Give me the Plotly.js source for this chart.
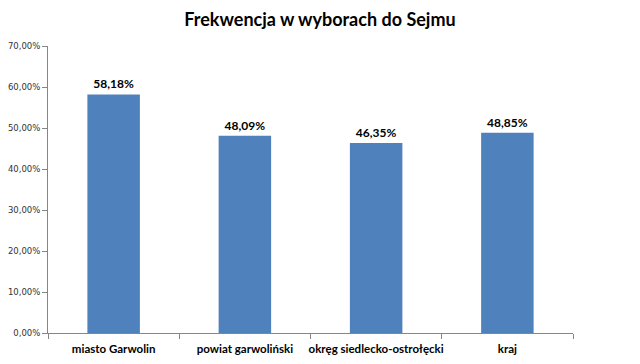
<!DOCTYPE html>
<html><head><meta charset="utf-8">
<script src="https://cdn.plot.ly/plotly-3.0.1.min.js"></script>
<style>html,body{margin:0;padding:0;background:#fff}#chart{width:640px;height:364px}</style>
</head><body><div id="chart"></div>
<script>
const categories = ["miasto Garwolin", "powiat garwoliński", "okręg siedlecko-ostrołęcki", "kraj"];
const turnout = [0.5818, 0.4809, 0.4635, 0.4885];
const yTicks = [0, 0.1, 0.2, 0.3, 0.4, 0.5, 0.6, 0.7];

const trace = {
  type: "bar",
  x: categories,
  y: turnout,
  marker: {color: "#4F81BD"},
  width: 0.4,
  texttemplate: "%{y:.2%}",
  textposition: "outside",
  cliponaxis: false,
  textfont: {family: "Lato, sans-serif", size: 12, color: "#000", weight: "bold"},
  hoverinfo: "none"
};

const layout = {
  width: 640, height: 364,
  margin: {l: 48, r: 67, t: 46, b: 31},
  separators: ",.",
  paper_bgcolor: "#fff", plot_bgcolor: "#fff",
  title: {text: "Frekwencja w wyborach do Sejmu", x: 0.5, xanchor: "center", y: 0.945, yanchor: "middle",
          font: {family: "Lato, sans-serif", size: 18, color: "#000", weight: "bold"}},
  showlegend: false,
  xaxis: {
    showline: true, linecolor: "#868686", linewidth: 1,
    ticks: "outside", tickson: "boundaries", ticklen: 5, tickcolor: "#868686",
    tickangle: 0, ticklabelstandoff: 5,
    tickfont: {family: "Lato, sans-serif", size: 11.5, color: "#000", weight: "bold"},
    showgrid: false, zeroline: false, fixedrange: true
  },
  yaxis: {
    range: [0, 0.7], tickvals: yTicks, tickformat: ".2%",
    showline: true, linecolor: "#868686", linewidth: 1,
    ticks: "outside", ticklen: 5, tickcolor: "#868686",
    tickfont: {family: "DejaVu Sans, sans-serif", size: 8.5, color: "#333"},
    showgrid: false, zeroline: false, fixedrange: true
  }
};

Plotly.newPlot("chart", [trace], layout, {displayModeBar: false, staticPlot: true});
</script></body></html>
